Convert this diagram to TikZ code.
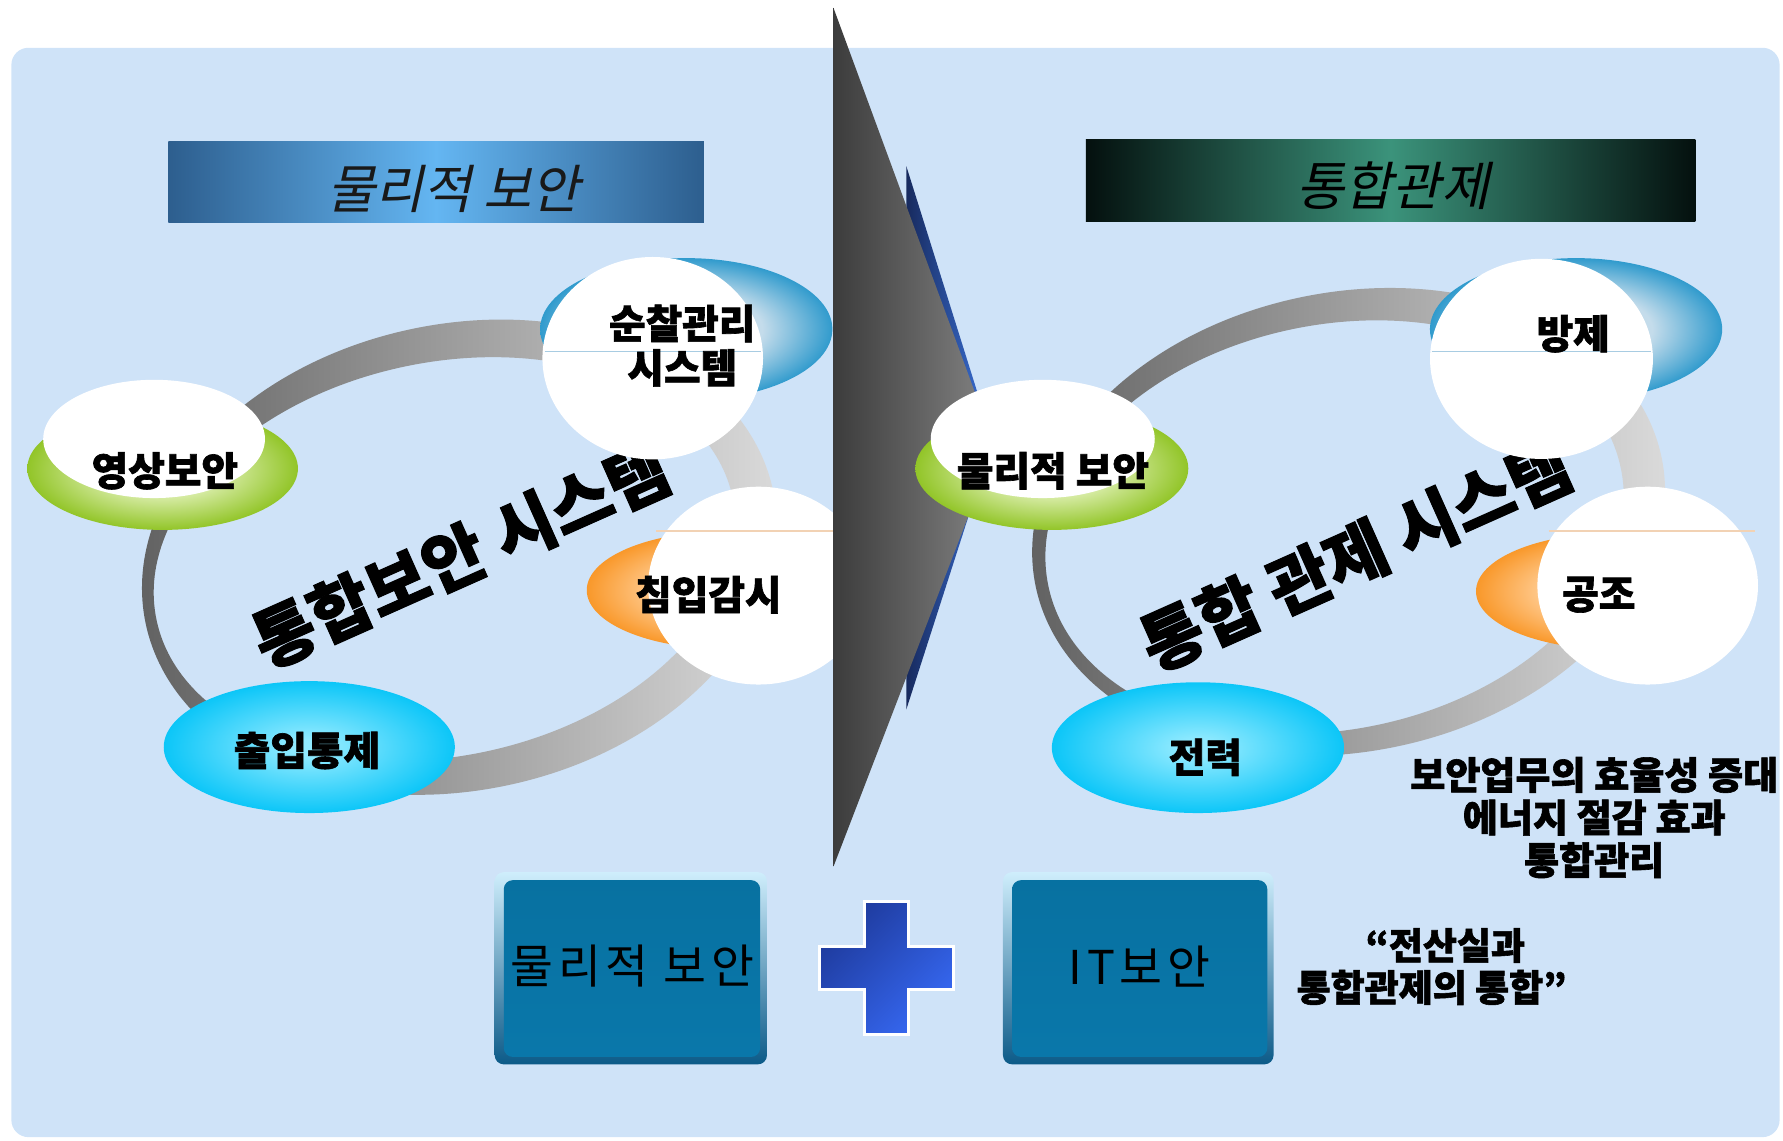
\documentclass[tikz,border=0pt]{standalone}
\usepackage{fontspec}
\setmainfont{Noto Sans CJK KR}[BoldFeatures={FakeBold=1.6}]
\newfontfamily\krit{Noto Sans CJK KR}[FakeSlant=0.22]
\newfontfamily\krbox{Noto Sans CJK KR}[LetterSpace=10]
\usetikzlibrary{shapes.geometric}

\definecolor{bgblue}{RGB}{207,227,248}
\definecolor{gIn}{HTML}{D4EAA0}\definecolor{gOut}{HTML}{8DC21F}
\definecolor{bIn}{HTML}{C4DCEB}\definecolor{bOut}{HTML}{1890C8}
\definecolor{oIn}{HTML}{FFC98C}\definecolor{oOut}{HTML}{F8901A}
\definecolor{cIn}{HTML}{90EAFF}\definecolor{cOut}{HTML}{0CC6F8}
\definecolor{tbLe}{HTML}{2D5E8E}\definecolor{tbLm}{HTML}{64B6F2}
\definecolor{tbRe}{HTML}{04100E}\definecolor{tbRm}{HTML}{3B937B}
\definecolor{triL}{HTML}{3C3C3C}\definecolor{triR}{HTML}{848484}
\definecolor{btriL}{HTML}{172A5E}\definecolor{btriR}{HTML}{3C74DC}
\definecolor{ringL}{HTML}{5E5E5E}\definecolor{ringR}{HTML}{DEDEDE}
\definecolor{bxOutT}{HTML}{CFEEFC}\definecolor{bxOutB}{HTML}{0C5A88}
\definecolor{bx0}{HTML}{BCE9FB}\definecolor{bx1}{HTML}{9ED8F0}
\definecolor{bx2}{HTML}{0A78AB}\definecolor{bx3}{HTML}{07709F}
\definecolor{bx4}{HTML}{6AA6C8}
\definecolor{plusA}{HTML}{1E3A9C}\definecolor{plusB}{HTML}{3668F2}
\definecolor{lineB}{HTML}{A8CCE2}\definecolor{lineO}{HTML}{F2D2B4}

\pgfdeclareradialshading{gshade}{\pgfpoint{0bp}{0bp}}{color(0bp)=(gIn); color(12bp)=(gIn); color(26bp)=(gOut); color(50bp)=(gOut)}
\pgfdeclareradialshading{bshade}{\pgfpoint{0bp}{0bp}}{color(0bp)=(bIn); color(13bp)=(bIn); color(27bp)=(bOut); color(50bp)=(bOut)}
\pgfdeclareradialshading{oshade}{\pgfpoint{0bp}{0bp}}{color(0bp)=(oIn); color(13bp)=(oIn); color(27bp)=(oOut); color(50bp)=(oOut)}
\pgfdeclareradialshading{cshade}{\pgfpoint{0bp}{0bp}}{color(0bp)=(cIn); color(3bp)=(cIn); color(25bp)=(cOut); color(50bp)=(cOut)}
\pgfdeclareverticalshading{boxfill}{100bp}{color(0bp)=(bx0); color(5bp)=(bx1); color(20bp)=(bx2); color(84bp)=(bx3); color(100bp)=(bx4)}

\begin{document}
\begin{tikzpicture}[x=1pt,y=-1pt,
  lbl/.style={font=\bfseries\fontsize{35}{39}\selectfont, inner sep=0pt, align=center},
  bigtxt/.style={font=\bfseries\fontsize{59}{62}\selectfont, inner sep=0pt, rotate=24},
  ttl/.style={font=\krit\fontsize{46}{50}\selectfont, inner sep=0pt},
  boxtxt/.style={font=\krbox\fontsize{41}{46}\selectfont, inner sep=0pt},
  note/.style={font=\bfseries\fontsize{33.5}{37.5}\selectfont, inner sep=0pt, align=center},
  quotetxt/.style={font=\bfseries\fontsize{32.5}{37}\selectfont, inner sep=0pt, align=center},
  ringshade/.style={even odd rule, left color=ringL, right color=ringR},
  whitefill/.style={fill=white}]

\useasboundingbox (0,0) rectangle (1568,1003);

% background
\fill[bgblue, rounded corners=15] (10,42) rectangle (1565,1000);

% title bars
\shade[left color=tbLe, right color=tbLe, middle color=tbLm] (148,124) rectangle (619,196);
\node[ttl, text=black!90] (ttlL) at (399,166) {물리적 보안};
\shade[left color=tbRe, right color=tbRe, middle color=tbRm] (955,123) rectangle (1491,195);
\node[ttl, text=black] (ttlR) at (1225,163) {통합관제};

% ---------------- left cycle ----------------
\shade[ringshade, rotate around={12:(404,490)}] (404,490) ellipse [x radius=282, y radius=205] (391,489) ellipse [x radius=259, y radius=173];
\node[bigtxt] (bigL) at (405,488) {통합보안 시스템};

% 영상보안
\shade[shading=gshade] (143,412) ellipse [x radius=119, y radius=54];
\fill[whitefill] (135.5,386) ellipse [x radius=97.5, y radius=52];
\node[lbl] (n1) at (145,414) {영상보안};
% 순찰관리 시스템
\shade[shading=bshade] (603.5,289.5) ellipse [x radius=128.5, y radius=62.5];
\fill[whitefill] (574,315) ellipse [x radius=97, y radius=89];
\draw[lineB, line width=1] (479,309) -- (669,309);
\node[lbl] (n2) at (600,304) {순찰관리\\시스템};
% 침입감시
\shade[shading=oshade] (636,519) ellipse [x radius=120, y radius=51.5];
\fill[whitefill] (667,515) ellipse [x radius=97, y radius=87];
\draw[lineO, line width=1] (577,467) -- (733,467);
\node[lbl] (n3) at (623,523) {침입감시};
% 출입통제
\shade[shading=cshade] (272,657) ellipse [x radius=128, y radius=58];
\node[lbl] (n4) at (270,660) {출입통제};

% ---------------- central arrow ----------------
\shade[left color=btriL, right color=btriR] (797,146) -- (873,388) -- (797,624) -- cycle;
\shade[left color=triL, right color=triR] (733,7) -- (875,393) -- (733,762) -- cycle;

% ---------------- right cycle ----------------
\shade[ringshade, rotate around={11.5:(1186,459)}] (1186,459) ellipse [x radius=281, y radius=202] (1173,461) ellipse [x radius=257, y radius=178];
\node[bigtxt] (bigR) at (1192,488) {통합 관제 시스템};

% 물리적 보안
\shade[shading=gshade] (925,412) ellipse [x radius=120, y radius=54];
\fill[whitefill] (917,386) ellipse [x radius=98.5, y radius=52];
\node[lbl] (m1) at (926,414) {물리적 보안};
% 방제
\shade[shading=bshade] (1386,289.5) ellipse [x radius=128.5, y radius=62.5];
\fill[whitefill] (1355.6,315.6) ellipse [x radius=98, y radius=88];
\draw[lineB, line width=1] (1259,309) -- (1452,309);
\node[lbl] (m2) at (1383.5,293.5) {방제};
% 공조
\shade[shading=oshade] (1418,520) ellipse [x radius=120, y radius=51];
\fill[whitefill] (1449,515) ellipse [x radius=97, y radius=87];
\draw[lineO, line width=1] (1362,467) -- (1543,467);
\node[lbl] (m3) at (1406,523) {공조};
% 전력
\shade[shading=cshade] (1053.5,657.5) ellipse [x radius=128.5, y radius=57.5];
\node[lbl] (m4) at (1060,666) {전력};

% benefits text
\node[note] (benefit) at (1402,719) {보안업무의 효율성 증대\\에너지 절감 효과\\통합관리};

% ---------------- bottom boxes ----------------
\shade[top color=bxOutT, bottom color=bxOutB, rounded corners=8] (435,767) rectangle (674.5,936);
\shade[shading=boxfill, rounded corners=8] (443,774) rectangle (668.5,929.5);
\node[boxtxt] (boxL) at (556,850) {물리적 보안};

\shade[top color=bxOutT, bottom color=bxOutB, rounded corners=8] (882,767) rectangle (1120,936);
\shade[shading=boxfill, rounded corners=8] (890,774) rectangle (1114.5,929.5);
\node[boxtxt] (boxR) at (1002,850) {IT보안};

% plus sign
\shade[draw=white, line width=2.5, top color=plusA, bottom color=plusB, shading angle=45]
  (760,793) -- (798.6,793) -- (798.6,832) -- (838.3,832) -- (838.3,870) -- (798.6,870)
  -- (798.6,910) -- (760,910) -- (760,870) -- (720.5,870) -- (720.5,832) -- (760,832) -- cycle;

% quote
\node[quotetxt] (quote) at (1259,850) {\hspace*{24pt}“전산실과\\통합관제의 통합”};

\end{tikzpicture}
\end{document}
